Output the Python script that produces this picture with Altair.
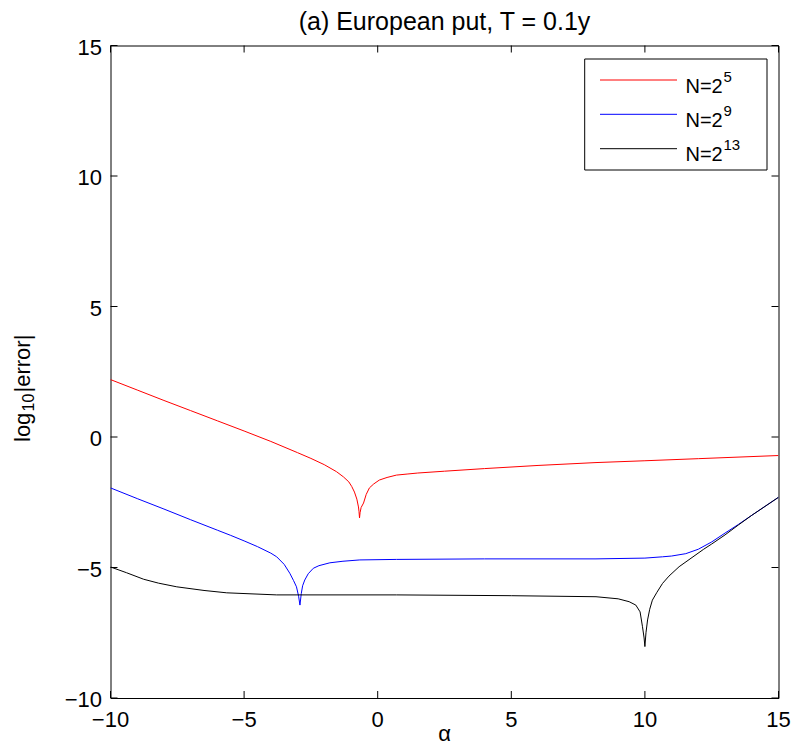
import altair as alt
import pandas as pd

# ---------------- data ----------------
series_names = ["N=2^5", "N=2^9", "N=2^13"]
series_colors = ["#ff0000", "#0000ff", "#000000"]

alpha_red = [-10, -9, -8, -7, -6, -5, -4, -3, -2.5, -2, -1.54, -1.28, -1.08, -0.97, -0.87,
             -0.78, -0.72, -0.70, -0.68, -0.66, -0.62, -0.53, -0.43, -0.31, -0.15, 0.06,
             0.35, 0.7, 1.1, 1.5, 2.5, 4, 6, 8.17, 10, 12, 15]
err_red = [2.2, 1.8, 1.4, 1.01, 0.62, 0.23, -0.17, -0.6, -0.82, -1.06, -1.33, -1.53, -1.72,
           -1.9, -2.11, -2.38, -2.68, -2.85, -3.1, -2.9, -2.7, -2.53, -2.2, -1.95, -1.8,
           -1.65, -1.55, -1.46, -1.42, -1.38, -1.31, -1.21, -1.09, -0.98, -0.91, -0.83, -0.71]

alpha_blue = [-10, -9, -8, -7, -6, -5.5, -5, -4.5, -4.0, -3.78, -3.5, -3.29, -3.15, -3.04, -2.96,
              -2.91, -2.86, -2.81, -2.73, -2.6, -2.41, -2.2, -1.79, -1.3, -0.67, 0.7, 4,
              8.17, 10, 10.66, 11.0, 11.53, 12.0, 12.5, 13.0, 13.5, 14, 15]
err_blue = [-1.95, -2.36, -2.76, -3.17, -3.57, -3.77, -3.98, -4.2, -4.45, -4.59, -4.88, -5.22,
            -5.5, -5.74, -6.1, -6.44, -6.0, -5.7, -5.48, -5.24, -5.03, -4.93, -4.82, -4.76,
            -4.71, -4.69, -4.67, -4.67, -4.64, -4.59, -4.56, -4.47, -4.3, -4.02, -3.68,
            -3.35, -3.0, -2.31]

alpha_black = [-10, -9.4, -8.76, -8.2, -7.52, -6.5, -5.65, -3.78, 0.7, 5, 8.17, 9.0, 9.41,
               9.66, 9.82, 9.91, 9.97, 10.0, 10.04, 10.10, 10.18, 10.28, 10.45, 10.66, 10.9,
               11.28, 12.2, 12.5, 13.0, 13.5, 14, 15]
err_black = [-4.98, -5.2, -5.45, -5.6, -5.74, -5.88, -5.97, -6.05, -6.05, -6.08, -6.12, -6.2,
             -6.31, -6.44, -6.7, -7.27, -7.7, -8.03, -7.5, -7.01, -6.6, -6.25, -5.95, -5.61,
             -5.33, -4.97, -4.3, -4.1, -3.75, -3.37, -3.0, -2.31]

x_ticks = [-10, -5, 0, 5, 10, 15]
y_ticks = [-10, -5, 0, 5, 10, 15]
x_tick_labels = ["\u221210", "\u22125", "0", "5", "10", "15"]
y_tick_labels = ["\u221210", "\u22125", "0", "5", "10", "15"]

legend_base = ["N=2", "N=2", "N=2"]
legend_sup = ["5", "9", "13"]

title_text = "(a) European put, T = 0.1y"
x_title = "\u03b1"
y_title_parts = ["log", "10", "|error|"]

# ---------------- layout ----------------
W, H = 668, 652.5
FONT = "Liberation Sans"
TICK_LEN = 7

rows = []
for name, xs, ys in zip(series_names, [alpha_red, alpha_blue, alpha_black],
                        [err_red, err_blue, err_black]):
    for i, (a, e) in enumerate(zip(xs, ys)):
        rows.append({"series": name, "alpha": a, "err": e, "order": i})
df = pd.DataFrame(rows)

xscale = alt.Scale(domain=[-10, 15], nice=False, zero=False)
yscale = alt.Scale(domain=[-10, 15], nice=False, zero=False)
cscale = alt.Scale(domain=series_names, range=series_colors)

layers = []
for name in series_names:
    layers.append(
        alt.Chart(df).transform_filter(alt.datum.series == name)
        .mark_line(strokeWidth=1, clip=True)
        .encode(x=alt.X("alpha:Q", scale=xscale, axis=None),
                y=alt.Y("err:Q", scale=yscale, axis=None),
                color=alt.Color("series:N", scale=cscale, legend=None),
                order="order:Q")
    )

# inward ticks on all four sides
xt = pd.DataFrame({"v": x_ticks, "lab": x_tick_labels})
yt = pd.DataFrame({"v": y_ticks, "lab": y_tick_labels})
tick_style = dict(color="black", strokeWidth=1)
layers.append(alt.Chart(xt).mark_rule(**tick_style).encode(
    x=alt.X("v:Q", scale=xscale, axis=None), y=alt.value(H), y2=alt.value(H - TICK_LEN)))
layers.append(alt.Chart(xt).mark_rule(**tick_style).encode(
    x=alt.X("v:Q", scale=xscale, axis=None), y=alt.value(0), y2=alt.value(TICK_LEN)))
layers.append(alt.Chart(yt).mark_rule(**tick_style).encode(
    y=alt.Y("v:Q", scale=yscale, axis=None), x=alt.value(0), x2=alt.value(TICK_LEN)))
layers.append(alt.Chart(yt).mark_rule(**tick_style).encode(
    y=alt.Y("v:Q", scale=yscale, axis=None), x=alt.value(W), x2=alt.value(W - TICK_LEN)))

# tick labels
layers.append(alt.Chart(xt).mark_text(align="center", baseline="alphabetic", font=FONT,
                                      fontSize=22, color="black").encode(
    x=alt.X("v:Q", scale=xscale, axis=None), y=alt.value(H + 29), text="lab:N"))
layers.append(alt.Chart(yt).mark_text(align="right", baseline="alphabetic", font=FONT,
                                      fontSize=22, color="black", dy=9).encode(
    y=alt.Y("v:Q", scale=yscale, axis=None), x=alt.value(-8.5), text="lab:N"))

# axis titles and chart title
xtitle_df = pd.DataFrame({"t": [x_title]})
layers.append(alt.Chart(xtitle_df).mark_text(align="center", baseline="alphabetic", font=FONT,
                                             fontSize=22, color="black").encode(
    x=alt.value(W / 2), y=alt.value(H + 43), text="t:N"))
title_df = pd.DataFrame({"t": [title_text]})
layers.append(alt.Chart(title_df).mark_text(align="center", baseline="alphabetic", font=FONT,
                                            fontSize=25, color="black").encode(
    x=alt.value(W / 2), y=alt.value(-16), text="t:N"))

# legend box (MATLAB style)
leg = pd.DataFrame({
    "name": series_names,
    "base": legend_base,
    "sup": legend_sup,
    "ly": [34.5, 68.8, 103.2],
    "ty": [47.8, 81.8, 115.6],
    "sy": [36.4, 70.4, 104.2],
})
box = pd.DataFrame({"k": [0]})
layers.append(alt.Chart(box).mark_rect(fill="white", stroke="black", strokeWidth=1).encode(
    x=alt.value(474.2), x2=alt.value(656.5), y=alt.value(13.5), y2=alt.value(124.5)))
layers.append(alt.Chart(leg).mark_rule(strokeWidth=1).encode(
    x=alt.value(489.5), x2=alt.value(566.5),
    y=alt.Y("ly:Q", scale=None, axis=None),
    color=alt.Color("name:N", scale=cscale, legend=None)))
layers.append(alt.Chart(leg).mark_text(align="left", baseline="alphabetic", font=FONT,
                                       fontSize=20, color="black").encode(
    x=alt.value(575), y=alt.Y("ty:Q", scale=None, axis=None), text="base:N"))
layers.append(alt.Chart(leg).mark_text(align="left", baseline="alphabetic", font=FONT,
                                       fontSize=15, color="black").encode(
    x=alt.value(613), y=alt.Y("sy:Q", scale=None, axis=None), text="sup:N"))

# y-axis title with subscript, built from rotated text pieces
yl = pd.DataFrame({"t": [y_title_parts[0]]})
ys = pd.DataFrame({"t": [y_title_parts[1]]})
ye = pd.DataFrame({"t": [y_title_parts[2]]})
ytxt = dict(align="left", baseline="alphabetic", angle=270, font=FONT, color="black")
layers.append(alt.Chart(yl).mark_text(fontSize=22, **ytxt).encode(
    x=alt.value(-80.2), y=alt.value(396.5), text="t:N"))
layers.append(alt.Chart(ys).mark_text(fontSize=16, **ytxt).encode(
    x=alt.value(-76.5), y=alt.value(366), text="t:N"))
layers.append(alt.Chart(ye).mark_text(fontSize=22, **ytxt).encode(
    x=alt.value(-80.2), y=alt.value(347), text="t:N"))

chart = alt.layer(*layers).properties(
    width=W, height=H,
    background="white",
    autosize=alt.AutoSizeParams(type="none"),
    padding={"left": 102.5, "top": 37.5, "right": 12.5, "bottom": 47},
).configure_view(stroke="black", strokeWidth=1)

chart.save("out.html", embed_options={"renderer": "svg", "actions": False})
